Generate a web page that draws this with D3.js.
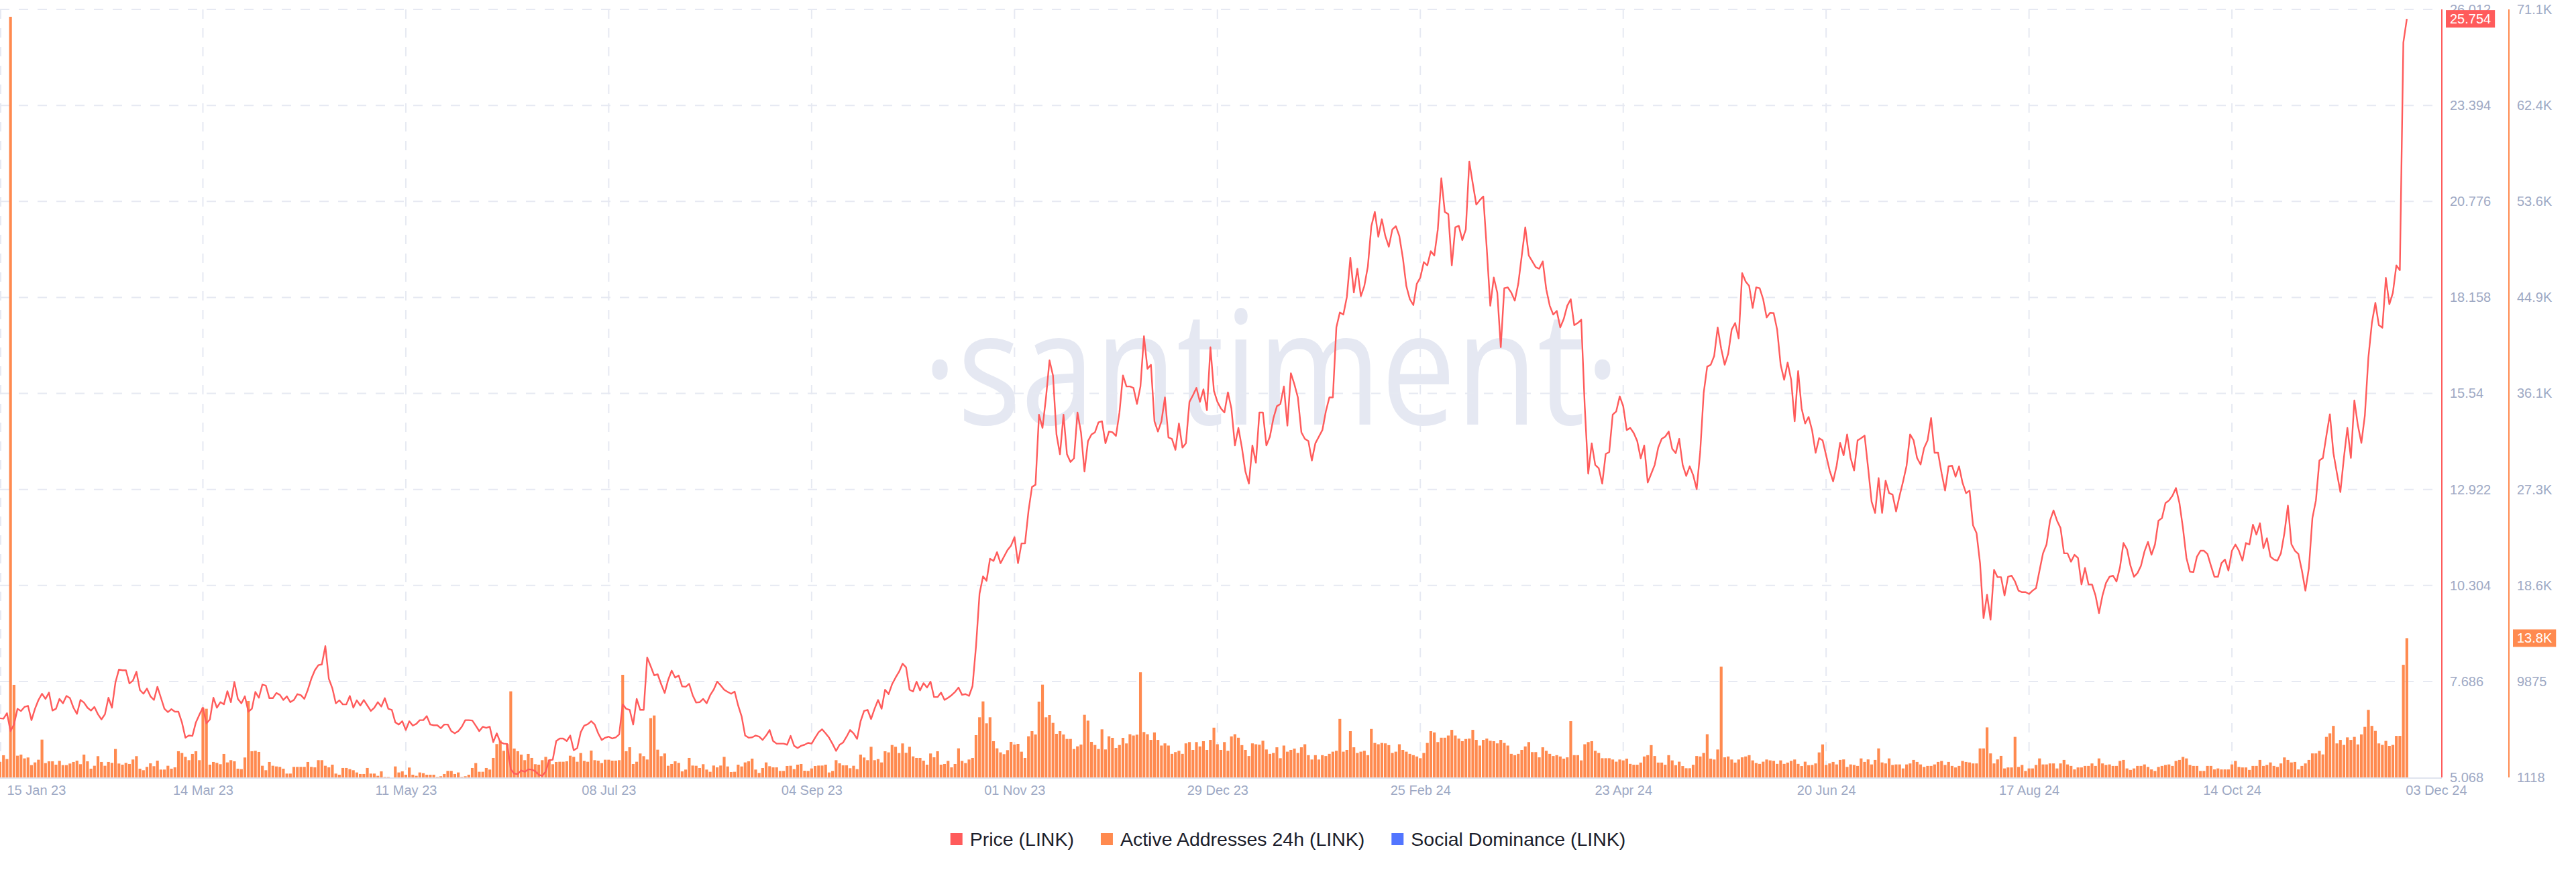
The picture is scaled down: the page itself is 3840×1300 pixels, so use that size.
<!DOCTYPE html>
<html><head><meta charset="utf-8">
<script src="https://cdn.jsdelivr.net/npm/d3@7"></script>
<style>
html,body{margin:0;padding:0;background:#ffffff;}
svg{display:block;}
</style></head><body>
<svg id="chart" width="3840" height="1300"></svg>
<script>
// ---------------- DATA ----------------
const startDate = "2023-01-15"; // first daily point; one value per day

const price = [
6.68,6.67,6.82,6.33,6.51,6.94,6.88,6.99,7.02,6.63,
6.94,7.18,7.35,7.21,7.38,6.89,6.94,7.21,7.09,7.29,
7.23,6.97,6.80,7.18,7.11,6.97,6.89,6.99,6.79,6.65,
6.79,7.24,6.97,7.66,8.01,7.99,7.99,7.63,7.71,7.95,
7.45,7.35,7.49,7.28,7.18,7.54,7.24,6.94,6.85,6.93,
6.86,6.86,6.57,6.15,6.21,6.20,6.57,6.78,6.97,6.54,
6.65,7.24,6.97,7.12,7.06,7.42,7.12,7.67,7.21,7.09,
7.28,6.86,6.94,7.40,7.24,7.60,7.57,7.23,7.23,7.37,
7.32,7.18,7.28,7.12,7.18,7.34,7.31,7.21,7.46,7.76,
7.99,8.13,8.15,8.65,7.76,7.50,7.09,7.17,7.06,7.06,
7.29,6.97,7.17,7.03,7.18,7.03,6.88,6.97,7.12,7.00,
7.23,6.94,6.91,6.57,6.51,6.60,6.36,6.60,6.48,6.53,
6.63,6.63,6.74,6.51,6.49,6.49,6.41,6.51,6.51,6.33,
6.27,6.33,6.45,6.63,6.63,6.62,6.48,6.33,6.45,6.42,
6.45,6.03,6.27,6.03,5.99,5.98,5.29,5.17,5.16,5.26,
5.22,5.29,5.28,5.24,
5.14,5.11,5.23,5.54,5.55,6.06,6.13,6.13,6.06,6.21,
5.81,5.87,6.30,6.48,6.52,6.60,6.51,6.27,6.09,6.15,
6.18,6.13,6.16,6.24,7.06,6.94,6.91,6.51,7.21,6.91,
6.91,8.34,8.10,7.85,7.88,7.61,7.37,7.73,7.98,7.79,
7.85,7.55,7.54,7.62,7.31,7.11,7.12,7.21,7.09,7.31,
7.46,7.68,7.58,7.46,7.40,7.35,7.41,7.03,6.73,6.21,
6.15,6.16,6.21,6.18,6.09,6.21,6.36,6.06,5.99,5.99,
5.99,5.96,6.20,5.93,5.87,5.93,5.96,6.01,5.99,6.15,
6.30,6.38,6.27,6.15,5.98,5.79,5.96,6.02,6.18,6.36,
6.27,6.12,6.60,6.88,6.91,6.66,6.94,7.18,6.94,7.46,
7.34,7.61,7.79,7.95,8.17,8.07,7.46,7.41,7.68,7.44,
7.64,7.52,7.68,7.26,7.26,7.38,7.18,7.24,7.31,7.40,
7.52,7.32,7.34,7.29,7.56,
8.65,10.08,10.55,10.43,11.03,10.97,11.21,10.91,11.09,11.27,
11.39,11.62,10.91,11.45,11.45,12.34,12.99,13.05,14.96,14.60,
15.43,16.44,16.03,14.42,13.88,14.96,13.88,13.67,13.77,15.02,
14.48,13.41,14.24,14.42,14.48,14.75,14.78,14.18,14.50,14.48,
14.38,15.02,16.03,15.73,15.73,15.69,15.25,15.73,17.10,16.21,
16.32,14.78,14.50,14.78,15.43,14.34,14.30,14.00,14.72,14.06,
14.18,15.31,15.49,15.69,15.31,15.65,15.08,
16.80,15.61,15.31,15.13,15.02,15.57,15.13,14.12,14.60,14.06,
13.41,13.08,14.12,13.65,15.02,15.02,14.12,14.36,14.86,15.19,
15.25,15.73,14.66,16.09,15.79,15.43,14.48,14.30,14.24,13.71,
14.18,14.36,14.54,15.05,15.43,15.43,17.34,17.75,17.69,18.17,
19.24,18.29,18.94,18.19,18.47,19.00,20.10,20.49,19.81,20.29,
19.83,19.54,20.01,20.10,19.83,19.24,18.47,18.11,17.95,18.53,
18.70,19.12,19.03,19.42,19.30,20.01,21.41,20.49,20.43,19.03,
20.07,20.11,19.72,20.01,21.86,21.26,20.69,20.81,20.91,19.48,
17.93,18.70,18.29,16.80,18.41,18.43,18.29,18.07,18.53,19.30,
20.07,19.30,19.14,18.98,18.94,19.14,18.38,17.93,17.69,17.79,
17.34,17.57,17.93,18.11,17.40,17.46,17.55,15.19,13.35,14.18,
13.59,13.50,13.08,13.89,13.94,14.96,15.05,15.46,15.19,14.54,
14.60,14.46,14.24,13.77,14.12,13.11,13.35,13.59,14.06,14.30,
14.36,14.50,14.03,13.91,14.30,13.59,13.29,13.55,13.31,12.93,
13.94,15.55,16.27,16.32,16.56,17.34,16.76,16.32,16.62,17.28,
17.46,17.04,18.82,18.59,18.47,17.87,18.43,18.41,18.11,17.61,
17.74,17.73,17.28,16.32,15.91,16.38,15.91,14.78,16.15,15.13,
14.72,14.90,
14.53,13.92,14.32,14.26,13.85,13.44,13.14,13.57,14.19,13.85,
14.42,13.78,13.44,14.26,14.32,14.39,13.51,12.59,12.28,13.23,
12.28,13.16,12.82,12.78,12.32,12.75,13.14,13.57,14.42,14.26,
13.78,13.60,14.05,14.26,14.87,13.92,13.92,13.37,12.89,13.55,
13.57,13.27,13.55,13.10,12.82,12.89,11.94,11.73,10.91,9.41,
10.05,9.37,10.73,10.53,10.53,10.03,10.54,10.57,10.41,10.16,
10.12,10.12,10.07,10.16,10.23,10.71,11.18,11.42,12.07,12.35,
12.07,11.87,11.18,11.18,10.95,11.14,11.05,10.33,10.78,10.33,
10.33,10.03,9.55,10.03,10.37,10.54,10.57,10.41,10.80,11.46,
11.29,10.84,10.54,10.64,10.84,11.23,11.49,11.14,11.42,12.07,
12.14,12.55,12.62,12.75,12.96,12.55,11.87,11.05,10.68,10.67,
11.09,11.25,11.25,11.16,10.84,10.54,10.54,10.91,11.01,10.71,
11.25,11.42,11.25,10.98,11.46,11.42,11.96,11.69,12.00,11.32,
11.59,11.09,11.01,10.98,11.18,11.73,12.48,11.43,11.25,11.16,
10.71,10.16,10.78,12.14,12.62,13.71,13.78,14.39,14.97,13.92,
13.37,12.85,13.78,14.60,13.78,15.35,14.67,14.19,14.94,16.51,
17.46,18.01,17.40,17.33,18.69,17.97,18.28,19.03,18.90,25.11,
25.754
];

const activeAddresses = [
2528,3140,2793,70500,9563,3099,3201,2854,2936,2242,
2487,2732,4567,2426,2589,2589,2283,2630,2242,2242,
2385,2528,2650,2324,3201,2589,1916,2181,3058,2528,
2181,2528,2446,3711,2385,2283,2446,2344,2752,3058,
1916,1773,2080,2405,2141,2650,1835,1835,2181,1916,
2039,3507,3344,2997,2691,3262,3507,2691,7483,7381,
2283,2528,2446,2324,3262,2487,2691,2589,1916,1876,
2936,8094,3507,3547,3446,2181,1773,2528,2181,2120,
2080,1916,1468,1468,2080,2080,2080,2080,2528,2080,
2039,2691,2691,2181,2039,2283,1468,1366,1978,1978,
1876,1773,1570,1427,1427,1978,1468,1468,1264,1673,
1162,1162,1118,2120,1570,1673,1366,2018,1366,1264,
1570,1509,1366,1366,1366,1162,1223,1427,1712,1712,
1427,1570,1162,1223,1366,1978,2426,1631,1631,1978,
1835,2895,4159,4485,3547,4159,8971,3752,3507,3201,
2691,3262,2895,2324,
2282,2690,2996,2731,2323,2527,2547,2547,2588,3098,
2996,2547,3342,2629,2547,3567,2690,2649,2425,2731,
2731,2649,2649,2690,10479,3505,3872,2343,2547,3302,
3057,2751,6523,6768,3648,3057,3302,2180,2343,2588,
2445,1670,1834,2894,2200,2180,1976,2323,1834,1630,
2200,2037,2200,2996,2119,1609,1630,2282,2119,2486,
2588,2833,1834,1528,1976,2486,2139,2037,2037,1711,
1711,2160,2180,1874,2282,2343,1731,1711,1935,2160,
2200,2200,2282,1569,1711,2690,2405,2221,2221,1956,
2180,1874,3200,2934,2690,3913,2690,2792,2486,3505,
3403,4076,3913,3342,4219,3363,3913,3036,2894,2894,
2649,2282,3302,2955,3505,2282,2343,2629,2037,2343,
3771,2629,2425,2751,2894,4974,6605,8052,6054,6605,
4423,3771,3403,3240,3607,4362,4117,4178,3465,2894,
4871,5340,5035,8032,9582,6605,6808,6095,5096,5340,
5035,4627,4627,3709,3954,4117,6829,6299,4362,4076,
3709,5504,3669,4871,4729,3811,4076,4729,4219,
5059,4940,5019,10711,5258,5059,4542,5219,4542,4025,
4224,4025,3269,3428,3547,3269,4224,4343,3627,4343,
3945,4423,3627,
4542,5657,4144,3627,4343,3547,4860,5059,4741,4064,
3627,3069,4224,4144,4104,4463,3666,3269,3348,3866,
2870,4025,3467,3627,3746,3348,3866,4144,3149,2751,
3149,2751,3149,3069,3269,3467,3547,6453,3467,3627,
5338,3866,3348,3467,3547,3149,5537,4263,4144,4263,
4224,4064,3348,3467,4144,3627,3467,3269,3149,3029,
2870,3348,4263,5338,5219,4343,4741,4741,4940,5458,
4940,4661,4423,4622,4661,5458,4542,4025,4542,4661,
4463,4423,4224,4542,4263,4025,3269,3149,3269,3627,
3945,4343,3428,3428,2950,3866,3547,3269,3069,3149,
3029,2830,2950,6254,3149,3149,2672,4144,4343,4423,
3547,3348,2870,2870,2870,2751,2552,2751,2672,2830,
2353,2274,2274,2473,3029,3149,4064,3069,2473,2473,
2274,3149,2672,2234,2552,2154,1955,1955,2274,3069,
3029,3348,5059,2830,2751,3666,11228,2950,3029,2751,
2473,2751,2950,3029,3149,2672,2433,2353,2552,2751,
2672,2632,2353,2672,2353,2473,2632,2751,2353,2154,
2552,2234,
2257,2394,3399,4129,2257,2394,2531,2303,2714,2760,
2075,2303,2257,2166,2851,2531,2760,2303,2714,3764,
2485,2394,2851,2257,2303,2303,1938,2303,2394,2714,
2531,2303,2075,2166,2166,2303,2531,2623,2257,2531,
2166,2029,2166,2623,2531,2485,2394,2394,3764,3764,
5682,3308,2394,2760,3080,1938,2029,2029,4815,2075,
2257,1710,1938,1938,2257,2851,2303,2303,2394,2394,
1938,2394,2714,2303,2166,1847,2029,2029,2166,2166,
2394,2166,2851,2394,2257,2303,2166,2166,2623,2714,
1938,1801,1938,2166,2166,2303,2075,1847,1710,2075,
2166,2257,2303,2166,2623,2714,2988,2851,2257,2166,
2166,1710,1710,2166,2166,1847,1938,1847,1847,1847,
2303,2623,2075,2029,2029,1801,2166,2166,2714,2166,
2257,2485,2166,2075,2394,2942,2714,2485,2531,1847,
2166,2394,2714,3308,3308,3536,3216,4815,5134,5819,
4221,4540,4084,4769,4540,4815,4129,5042,5728,7280,
5819,5362,4221,4084,4449,3992,4084,4906,4906,11390,
13820
];

const priceTicks = [5.068, 7.686, 10.304, 12.922, 15.54, 18.158, 20.776, 23.394, 26.012];
const priceTickLabels = ["5.068","7.686","10.304","12.922","15.54","18.158","20.776","23.394","26.012"];
const aaTicks = [1118, 9875, 18632, 27389, 36146, 44903, 53660, 62417, 71174];
const aaTickLabels = ["1118","9875","18.6K","27.3K","36.1K","44.9K","53.6K","62.4K","71.1K"];
const dateTicks = ["2023-01-15","2023-03-14","2023-05-11","2023-07-08","2023-09-04","2023-11-01",
  "2023-12-29","2024-02-25","2024-04-23","2024-06-20","2024-08-17","2024-10-14","2024-12-03"];
const dateTickLabels = ["15 Jan 23","14 Mar 23","11 May 23","08 Jul 23","04 Sep 23","01 Nov 23",
  "29 Dec 23","25 Feb 24","23 Apr 24","20 Jun 24","17 Aug 24","14 Oct 24","03 Dec 24"];
const seriesNames = ["Price (LINK)", "Active Addresses 24h (LINK)", "Social Dominance (LINK)"];
const watermarkText = "·santiment·";

// ---------------- STYLE / LAYOUT ----------------
const COLORS = { price: "#ff5b5b", aa: "#ff8a4f", social: "#5275ff" };
const legendColors = [COLORS.price, COLORS.aa, COLORS.social];
const FONT = "'Liberation Sans', Arial, sans-serif";
const AXIS_COLOR = "#9ea9c4";
const GRID_COLOR = "#e6e9f2";
const P = { left: 0, right: 3640, top: 14, bottom: 1159 };
const PAD_DAYS = 698;

const svg = d3.select("#chart");
const parse = d3.utcParse("%Y-%m-%d");
const start = parse(startDate);
const priceData = price.map((v, i) => ({ date: d3.utcDay.offset(start, i), v }));
const aaData = activeAddresses.map((v, i) => ({ date: d3.utcDay.offset(start, i), v }));

const x = d3.scaleUtc().domain([start, d3.utcDay.offset(start, PAD_DAYS)]).range([P.left, P.right]);
const yP = d3.scaleLinear().domain([priceTicks[0], priceTicks[priceTicks.length - 1]]).range([P.bottom, P.top]);
const yA = d3.scaleLinear().domain([aaTicks[0], aaTicks[aaTicks.length - 1]]).range([P.bottom, P.top]);
const tickDates = dateTicks.map(parse);

// clip
svg.append("defs").append("clipPath").attr("id", "plotclip")
  .append("rect").attr("x", P.left).attr("y", 0).attr("width", P.right - P.left).attr("height", P.bottom + 1);

// watermark
svg.append("text")
  .attr("x", 1375).attr("y", 633)
  .attr("textLength", 1040).attr("lengthAdjust", "spacingAndGlyphs")
  .style("font-family", "'Open Sans', sans-serif").style("font-size", "237px")
  .style("fill", "#e5e8f2")
  .text(watermarkText);

// grid
const grid = svg.append("g");
grid.selectAll("line.h").data(priceTicks.slice(1)).join("line")
  .attr("x1", P.left).attr("x2", P.right)
  .attr("y1", d => yP(d)).attr("y2", d => yP(d))
  .attr("stroke", GRID_COLOR).attr("stroke-width", 2).attr("stroke-dasharray", "14 14");
grid.selectAll("line.v").data(tickDates.slice(0, -1)).join("line")
  .attr("x1", d => Math.max(1, x(d))).attr("x2", d => Math.max(1, x(d)))
  .attr("y1", P.top).attr("y2", P.bottom)
  .attr("stroke", GRID_COLOR).attr("stroke-width", 2).attr("stroke-dasharray", "14 14");

// bars
const dayW = x(d3.utcDay.offset(start, 1)) - x(start);
const barW = dayW * 0.8;
svg.append("g").attr("clip-path", "url(#plotclip)")
  .selectAll("rect").data(aaData).join("rect")
  .attr("x", d => x(d.date) - barW / 2)
  .attr("y", d => yA(d.v))
  .attr("width", barW)
  .attr("height", d => yA(aaTicks[0]) - yA(d.v))
  .attr("fill", COLORS.aa);

// price line
const line = d3.line().x(d => x(d.date)).y(d => yP(d.v));
svg.append("path").datum(priceData).attr("clip-path", "url(#plotclip)")
  .attr("d", line).attr("fill", "none")
  .attr("stroke", COLORS.price).attr("stroke-width", 2.4).attr("stroke-linejoin", "round");

// bottom axis line
svg.append("line").attr("x1", P.left).attr("x2", P.right)
  .attr("y1", P.bottom + 1).attr("y2", P.bottom + 1)
  .attr("stroke", "#e0e4ee").attr("stroke-width", 2);

// x axis labels
const xAxis = svg.append("g").attr("transform", `translate(0,${P.bottom})`)
  .call(d3.axisBottom(x).tickValues(tickDates).tickSize(0).tickPadding(12)
    .tickFormat((d, i) => dateTickLabels[i]));
xAxis.select(".domain").remove();
xAxis.selectAll("text").style("font-family", FONT).style("font-size", "20px").style("fill", AXIS_COLOR);
xAxis.selectAll(".tick").filter((d, i) => i === 0).select("text")
  .attr("text-anchor", "start").attr("x", 10);
xAxis.selectAll(".tick").filter((d, i) => i === tickDates.length - 1).select("text")
  .attr("text-anchor", "start").attr("x", -2);

// right axes
function rightAxis(xpos, scale, ticks, labels, color) {
  svg.append("line").attr("x1", xpos).attr("x2", xpos).attr("y1", P.top).attr("y2", P.bottom)
    .attr("stroke", color).attr("stroke-width", 2);
  const g = svg.append("g").attr("transform", `translate(${xpos},0)`)
    .call(d3.axisRight(scale).tickValues(ticks).tickSize(0).tickPadding(12)
      .tickFormat((d, i) => labels[i]));
  g.select(".domain").remove();
  g.selectAll("text").style("font-family", FONT).style("font-size", "20px").style("fill", AXIS_COLOR);
  return g;
}
rightAxis(P.right, yP, priceTicks, priceTickLabels, COLORS.price);
rightAxis(3740, yA, aaTicks, aaTickLabels, COLORS.aa);

// last-value badges
function fmtK(v) { return v < 10000 ? String(Math.round(v)) : (Math.floor(v / 100) / 10).toFixed(1) + "K"; }
function badge(xpos, yv, text, color) {
  const g = svg.append("g");
  const t = g.append("text").attr("x", xpos + 12).attr("y", yv).attr("dy", "0.35em")
    .style("font-family", FONT).style("font-size", "20px").style("fill", "#ffffff").text(text);
  const w = t.node().getComputedTextLength();
  const top = Math.max(P.top, yv - 13);
  g.insert("rect", "text").attr("x", xpos + 6).attr("y", top).attr("width", w + 12).attr("height", 26).attr("fill", color);
  t.attr("y", top + 13);
}
const lastP = price[price.length - 1];
const lastA = activeAddresses[activeAddresses.length - 1];
badge(P.right, yP(lastP), String(lastP), COLORS.price);
badge(3740, yA(lastA), fmtK(lastA), COLORS.aa);

// legend
const leg = svg.append("g");
const items = leg.selectAll("g").data(seriesNames).join("g");
items.append("rect").attr("width", 18).attr("height", 18).attr("y", 1242).attr("fill", (d, i) => legendColors[i]);
items.append("text").attr("y", 1251).attr("dy", "0.35em")
  .style("font-family", FONT).style("font-size", "28.5px").style("fill", "#1c1e2b").text(d => d);
let widths = [];
items.each(function () { widths.push(this.querySelector("text").getComputedTextLength()); });
const gapIn = 11, gapOut = 40;
const total = d3.sum(widths) + widths.length * (18 + gapIn) + gapOut * (widths.length - 1);
let cx = 1920 - total / 2;
items.each(function (d, i) {
  d3.select(this).select("rect").attr("x", cx);
  d3.select(this).select("text").attr("x", cx + 18 + gapIn);
  cx += 18 + gapIn + widths[i] + gapOut;
});
</script>
</body></html>
